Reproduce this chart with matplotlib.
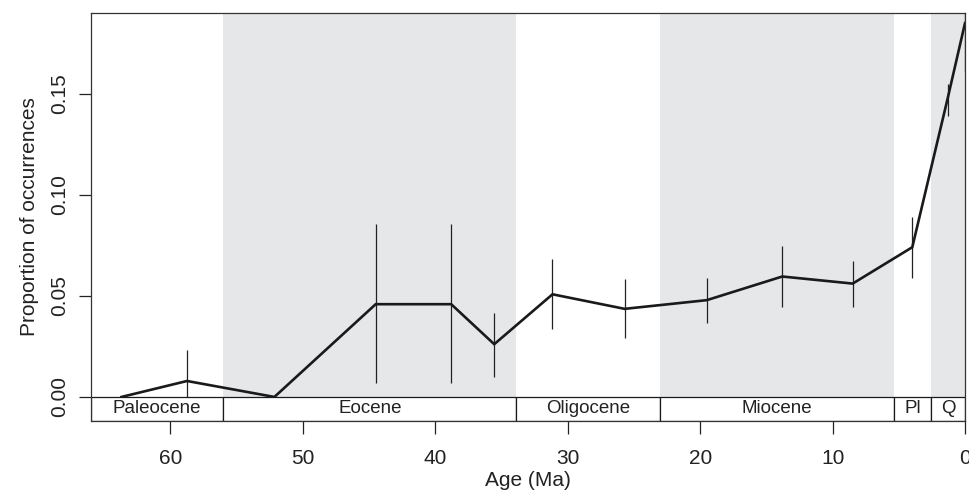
import matplotlib
matplotlib.use("Agg")
import matplotlib.pyplot as plt
from matplotlib.patches import Rectangle

plt.rcParams['font.family'] = ['Liberation Sans', 'DejaVu Sans']

# Data
ages = [63.7, 58.75, 52.15, 44.5, 38.8, 35.55, 31.15, 25.7, 19.5, 13.8, 8.48, 3.98, 1.3, 0.0]
props = [0.0, 0.0079, 0.0, 0.0459, 0.0459, 0.0261, 0.0508, 0.0436, 0.0479, 0.0596, 0.0561, 0.0741, 0.148, 0.185]
err_ages = [58.75, 44.5, 38.8, 35.55, 31.15, 25.7, 19.5, 13.8, 8.48, 3.98, 1.3, 0.0]
err_lo = [-0.0075, 0.0068, 0.0068, 0.0100, 0.0335, 0.0291, 0.0368, 0.0444, 0.0444, 0.059, 0.139, 0.161]
err_hi = [0.0233, 0.0855, 0.0855, 0.0414, 0.0682, 0.0583, 0.0588, 0.0749, 0.0675, 0.089, 0.155, 0.21]

period_names = ["Paleocene", "Eocene", "Oligocene", "Miocene", "Pl", "Q"]
period_start = [66.0, 56.0, 33.9, 23.03, 5.333, 2.58]
period_end = [56.0, 33.9, 23.03, 5.333, 2.58, 0.0]
period_shaded = [False, True, False, True, False, True]

yticks = [0.00, 0.05, 0.10, 0.15]
ytick_labels = ["0.00", "0.05", "0.10", "0.15"]
xticks = [60, 50, 40, 30, 20, 10, 0]

YMIN, YMAX = -0.0119, 0.190

fig = plt.figure(figsize=(9.69, 4.97), dpi=100)
ax = fig.add_axes([91/969, 1-421/497, (965-91)/969, (421-13)/497])
ax.set_xlim(66, 0)
ax.set_ylim(YMIN, YMAX)

# shading
for s, e, sh in zip(period_start, period_end, period_shaded):
    if sh:
        ax.add_patch(Rectangle((e, 0), s - e, YMAX, facecolor='#e6e7e9',
                               edgecolor='none', zorder=0))

# error bars
ax.vlines(err_ages, err_lo, err_hi, colors='#222222', linewidth=0.9, zorder=2)
# line
ax.plot(ages, props, color='#1a1a1a', linewidth=1.9, zorder=3, solid_joinstyle='miter')

# period bar
for name, s, e in zip(period_names, period_start, period_end):
    ax.add_patch(Rectangle((e, YMIN), s - e, -YMIN, facecolor='white',
                           edgecolor='#1a1a1a', linewidth=0.9, zorder=4))
    ax.text((s + e) / 2, YMIN / 2, name, ha='center', va='center',
            fontsize=13.5, color='#222222', zorder=5)

ax.set_xticks(xticks)
ax.set_xticklabels([str(t) for t in xticks])
ax.set_yticks(yticks)
ax.set_yticklabels(ytick_labels, rotation=90, va='center')
ax.tick_params(axis='both', direction='out', length=9, width=0.9,
               color='#222222', labelsize=15, labelcolor='#222222')
ax.tick_params(axis='x', pad=11)
ax.tick_params(axis='y', pad=7)

for sp in ax.spines.values():
    sp.set_linewidth(0.9)
    sp.set_color('#333333')
    sp.set_zorder(6)

ax.set_xlabel("Age (Ma)", fontsize=15, color='#222222', labelpad=2)
ax.set_ylabel("Proportion of occurrences", fontsize=15, color='#222222', labelpad=8)

fig.savefig("out.png", dpi=100)
